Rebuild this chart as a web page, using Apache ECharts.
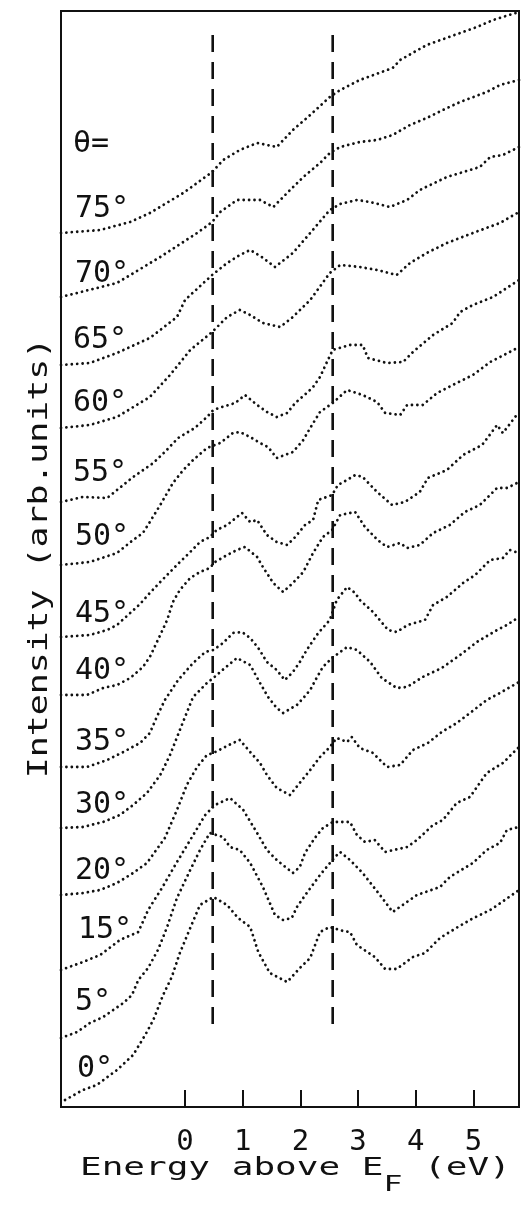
<!DOCTYPE html>
<html><head><meta charset="utf-8">
<script src="https://cdn.jsdelivr.net/npm/echarts@6/dist/echarts.min.js"></script>
<style>html,body{margin:0;padding:0;background:#fff}#c{width:524px;height:1216px}</style>
</head><body><div id="c"></div>
<script>
// ---- data (energy eV, intensity arb. units) ----
const xTicks = [0, 1, 2, 3, 4, 5];
const featureEnergies = [0.48, 2.56];
const featureRange = [77, 1072];
const angleLabels = ['75°','70°','65°','60°','55°','50°','45°','40°','35°','30°','20°','15°','5°','0°'];

const s75 = [[-2.15,874],[-1.47,877],[-0.95,885],[-0.61,894],[-0.03,914],[0.47,935],[0.66,947],[0.95,957],[1.25,964],[1.59,960],[1.87,977],[2.17,992],[2.51,1010],[2.69,1017],[3.03,1027],[3.60,1039],[3.73,1047],[4.19,1062],[4.77,1074],[5.06,1080],[5.34,1087],[5.79,1095]];
const s70 = [[-2.15,810],[-1.18,824],[-0.43,850],[0.21,874],[0.47,885],[0.61,895],[0.90,907],[1.13,907],[1.30,907],[1.53,900],[1.77,914],[2.05,930],[2.34,944],[2.51,954],[2.69,960],[3.03,965],[3.33,967],[3.60,972],[3.90,982],[4.19,989],[4.47,997],[4.77,1005],[5.23,1015],[5.46,1022],[5.79,1027]];
const s65 = [[-2.15,742],[-1.65,744],[-1.18,754],[-0.61,769],[-0.14,790],[0,807],[0.47,832],[0.73,844],[0.95,852],[1.13,857],[1.33,850],[1.56,840],[1.87,854],[2.17,874],[2.51,897],[2.69,903],[2.98,907],[3.21,905],[3.55,900],[3.85,907],[4.07,917],[4.54,930],[4.77,934],[5.11,940],[5.29,950],[5.51,952],[5.79,960]];
const s60 = [[-2.15,679],[-1.65,682],[-1.18,690],[-0.61,710],[-0.26,732],[0.09,757],[0.47,775],[0.73,790],[0.95,797],[1.13,792],[1.35,784],[1.65,780],[1.87,790],[2.17,807],[2.51,834],[2.69,842],[3.03,840],[3.33,837],[3.67,832],[3.90,844],[4.19,854],[4.54,864],[4.99,874],[5.46,884],[5.79,895]];
const s55 = [[-2.15,605],[-1.77,610],[-1.35,609],[-0.90,630],[-0.55,644],[-0.35,655],[-0.12,669],[0.17,679],[0.38,690],[0.49,697],[0.64,700],[0.87,704],[1.04,712],[1.25,702],[1.42,695],[1.59,690],[1.77,694],[1.91,704],[2.11,714],[2.22,720],[2.34,730],[2.46,745],[2.56,757],[2.86,762],[3.08,762],[3.17,749],[3.50,744],[3.78,745],[3.95,755],[4.30,772],[4.64,784],[4.77,795],[4.99,802],[5.34,810],[5.79,827]];
const s50 = [[-2.15,542],[-1.65,545],[-1.18,554],[-0.90,567],[-0.73,574],[-0.61,585],[-0.43,602],[-0.21,624],[-0.03,637],[0.14,647],[0.38,659],[0.61,664],[0.83,674],[0.95,675],[1.13,670],[1.30,664],[1.44,660],[1.59,649],[1.87,655],[2.05,667],[2.17,679],[2.34,695],[2.56,704],[2.81,717],[3.08,712],[3.33,705],[3.47,694],[3.73,692],[3.85,702],[4.12,702],[4.37,714],[4.71,724],[4.99,732],[5.29,745],[5.63,755],[5.79,760]];
const s45 = [[-2.15,470],[-1.65,472],[-1.35,477],[-1.18,482],[-0.95,494],[-0.78,503],[-0.61,514],[-0.43,525],[-0.26,535],[-0.09,545],[0.09,555],[0.26,565],[0.43,570],[0.55,577],[0.73,582],[0.90,590],[0.99,594],[1.13,585],[1.25,587],[1.42,572],[1.59,565],[1.77,562],[1.91,570],[2.08,582],[2.22,587],[2.31,607],[2.55,612],[2.65,622],[2.81,627],[2.95,632],[3.08,630],[3.33,615],[3.59,602],[3.81,605],[4.07,615],[4.21,629],[4.54,637],[4.82,652],[5.15,662],[5.41,682],[5.51,674],[5.75,692],[5.79,692]];
const s40 = [[-2.15,412],[-1.70,412],[-1.42,419],[-1.18,422],[-0.95,429],[-0.73,440],[-0.61,450],[-0.43,472],[-0.31,487],[-0.21,505],[-0.09,517],[0.09,529],[0.26,535],[0.43,539],[0.52,545],[0.73,552],[0.90,557],[1.04,560],[1.25,550],[1.35,540],[1.53,524],[1.70,515],[1.87,524],[2.05,535],[2.22,554],[2.39,570],[2.55,577],[2.69,592],[2.95,595],[3.12,580],[3.34,567],[3.50,560],[3.73,564],[3.85,559],[4.07,562],[4.30,574],[4.59,582],[4.85,595],[5.11,602],[5.41,619],[5.58,619],[5.79,625]];
const s35 = [[-2.15,340],[-1.70,340],[-1.35,347],[-1.07,355],[-0.78,364],[-0.61,374],[-0.49,390],[-0.35,407],[-0.12,427],[0.14,444],[0.35,455],[0.49,457],[0.66,464],[0.83,474],[0.99,475],[1.13,469],[1.27,459],[1.42,445],[1.59,437],[1.73,427],[1.87,435],[1.99,445],[2.11,457],[2.31,474],[2.51,487],[2.63,507],[2.81,520],[2.95,514],[3.03,507],[3.26,495],[3.52,477],[3.67,475],[3.86,482],[4.16,487],[4.30,502],[4.54,510],[4.82,524],[5.03,532],[5.29,547],[5.51,549],[5.63,557],[5.79,554]];
const s30 = [[-2.15,279],[-1.77,280],[-1.42,285],[-1.13,292],[-0.90,302],[-0.66,314],[-0.43,332],[-0.26,352],[-0.09,377],[0.14,410],[0.38,424],[0.49,429],[0.69,439],[0.90,449],[1.13,442],[1.30,424],[1.44,410],[1.59,399],[1.70,394],[1.94,402],[2.05,409],[2.17,417],[2.29,430],[2.39,440],[2.55,449],[2.69,455],[2.81,460],[2.98,457],[3.21,445],[3.41,429],[3.67,419],[3.85,420],[4.12,430],[4.45,439],[4.77,452],[5.06,465],[5.41,477],[5.58,482],[5.79,490]];
const s20 = [[-2.15,212],[-1.77,214],[-1.47,217],[-1.18,224],[-0.90,234],[-0.66,244],[-0.35,269],[-0.14,297],[0.03,322],[0.21,340],[0.38,352],[0.49,354],[0.66,359],[0.83,364],[0.95,367],[1.13,355],[1.30,344],[1.42,332],[1.59,319],[1.82,312],[2.03,327],[2.17,337],[2.34,350],[2.51,360],[2.63,369],[2.81,365],[2.89,370],[3.03,359],[3.26,354],[3.50,340],[3.73,342],[3.95,357],[4.21,364],[4.45,375],[4.71,384],[4.94,394],[5.23,407],[5.46,414],[5.79,425]];
const s15 = [[-2.15,137],[-1.77,145],[-1.47,152],[-1.13,167],[-0.81,175],[-0.64,197],[-0.40,219],[-0.17,242],[0.09,267],[0.35,292],[0.52,302],[0.78,309],[1.01,297],[1.25,274],[1.42,257],[1.59,247],[1.87,234],[1.99,240],[2.08,254],[2.25,269],[2.39,279],[2.56,285],[2.86,285],[2.98,272],[3.12,265],[3.29,267],[3.47,255],[3.85,260],[4.02,267],[4.30,282],[4.47,287],[4.71,304],[4.94,310],[5.23,334],[5.51,344],[5.79,360]];
const s5 = [[-2.15,69],[-1.87,75],[-1.65,84],[-1.42,90],[-1.07,104],[-0.92,112],[-0.81,127],[-0.64,139],[-0.47,157],[-0.31,180],[-0.14,209],[0.09,237],[0.26,257],[0.43,274],[0.66,270],[0.78,260],[0.95,257],[1.13,244],[1.35,220],[1.56,192],[1.70,187],[1.85,189],[1.94,200],[2.11,214],[2.34,232],[2.60,250],[2.69,255],[2.86,247],[3.08,234],[3.38,212],[3.60,195],[4.02,212],[4.42,220],[4.59,230],[4.99,244],[5.23,257],[5.46,264],[5.58,277],[5.79,280]];
const s0 = [[-2.08,7],[-1.77,17],[-1.53,22],[-1.18,37],[-0.90,52],[-0.69,72],[-0.55,87],[-0.38,112],[-0.23,130],[-0.09,154],[0.09,179],[0.26,202],[0.49,210],[0.73,202],[0.92,189],[1.13,180],[1.27,155],[1.47,134],[1.77,125],[1.99,139],[2.17,149],[2.34,175],[2.51,180],[2.74,176],[2.86,175],[2.98,162],[3.29,150],[3.47,138],[3.67,138],[3.95,150],[4.16,154],[4.42,169],[4.73,180],[4.97,188],[5.29,197],[5.42,202],[5.79,217]];

const curves = [s75, s70, s65, s60, s55, s50, s45, s40, s35, s30, s20, s15, s5, s0];

// ---- layout / style ----
const FONT = 'DejaVu Sans Mono';
const labelPix = [[75,209],[75,274],[73,340],[73,403],[73,473],[75,537],[75,614],[75,671],[75,742],[75,805],[75,871],[78,930],[75,1002],[77,1069]];

const chart = echarts.init(document.getElementById('c'), null, {renderer: 'canvas'});

const series = curves.map((d, i) => ({
  type: 'line', name: angleLabels[i], data: d, symbol: 'none', silent: true,
  lineStyle: {color: '#111', width: 2.8, type: [0.01, 5.4], cap: 'round'}
}));
featureEnergies.forEach(e => {
  series.push({
    type: 'line', data: [[e, featureRange[1]], [e, featureRange[0]]], symbol: 'none', silent: true,
    lineStyle: {color: '#111', width: 2.6, type: [17, 10]}
  });
});

const graphic = [
  {type: 'text', x: 73, y: 144, style: {text: 'θ=', fontFamily: FONT, fontSize: 30, fill: '#111', verticalAlign: 'middle'}},
  {type: 'text', x: 80, y: 1169, scaleX: 1.5, style: {
    text: 'Energy above E{s|F} (eV)', fontFamily: FONT, fontSize: 24, fill: '#111', verticalAlign: 'middle',
    rich: {s: {fontFamily: FONT, fontSize: 21, fill: '#111', padding: [34, 0, 0, 0]}}
  }},
  {type: 'text', x: 40, y: 558, rotation: Math.PI / 2, scaleX: 1.29, style: {
    text: 'Intensity (arb.units)', fontFamily: FONT, fontSize: 27, fill: '#111', align: 'center', verticalAlign: 'middle'
  }}
];
angleLabels.forEach((t, i) => {
  graphic.push({type: 'text', x: labelPix[i][0], y: labelPix[i][1], style: {
    text: t, fontFamily: FONT, fontSize: 30, fill: '#111', verticalAlign: 'middle'}});
});

chart.setOption({
  animation: false,
  backgroundColor: '#fff',
  grid: {left: 61, top: 11, right: 5, bottom: 109, show: true, borderColor: '#111', borderWidth: 2, backgroundColor: 'transparent'},
  xAxis: {
    type: 'value', min: -2.15, max: 5.79,
    axisLine: {show: true, onZero: false, lineStyle: {color: '#111', width: 2}},
    axisTick: {show: true, inside: true, length: 17, lineStyle: {color: '#111', width: 2}, customValues: xTicks},
    axisLabel: {show: true, customValues: xTicks, fontFamily: FONT, fontSize: 29, color: '#111', margin: 21},
    splitLine: {show: false}
  },
  yAxis: {
    type: 'value', min: 0, max: 1096,
    axisLine: {show: false, onZero: false},
    axisTick: {show: false}, axisLabel: {show: false}, splitLine: {show: false}
  },
  series: series,
  graphic: graphic
});
</script>
</body></html>
